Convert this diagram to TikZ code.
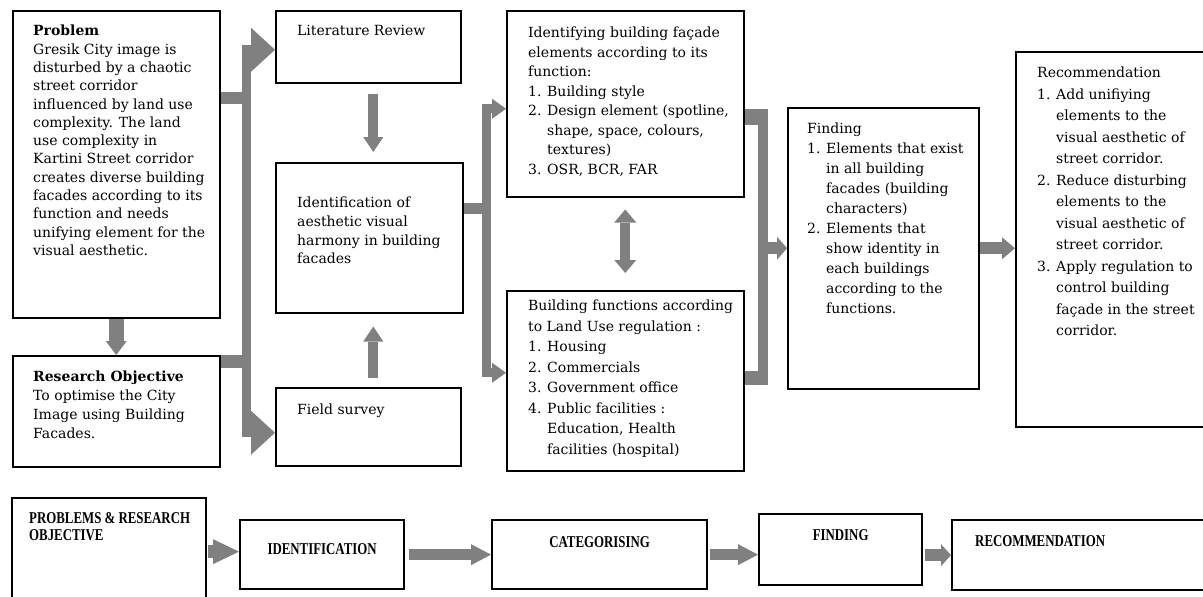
\documentclass[tikz,border=0pt]{standalone}
\usepackage{fontspec}
\setmainfont{DejaVu Serif}
\newfontfamily\capsfont[FakeStretch=0.78]{Liberation Serif Bold}
\usetikzlibrary{arrows.meta,calc}
\definecolor{agray}{RGB}{128,128,128}
\newcommand{\nli}[1]{\makebox[19pt][l]{#1}}
\newcommand{\ncont}{\hspace*{19pt}}
\newcommand{\bodyf}[1]{\fontsize{14}{#1}\selectfont}
\tikzset{
  bx/.style={draw, line width=1.5pt, inner sep=0pt, anchor=north west},
  bxb/.style={draw, line width=2.3pt, inner sep=0pt, anchor=north west},
  tx/.style={inner sep=0pt, anchor=north west, align=left},
  capt/.style={inner sep=0pt, font=\capsfont\fontsize{16.5}{17}\selectfont, align=left},
  bar/.style={draw=agray, line width=#1, line join=miter},
  tri/.style n args={2}{-{Triangle[width=#1,length=#2,line width=0pt]}},
  dtri/.style n args={2}{{Triangle[width=#1,length=#2,line width=0pt]}-{Triangle[width=#1,length=#2,line width=0pt]}}
}
\begin{document}
\begin{tikzpicture}[x=1pt,y=-1pt]
\useasboundingbox (0,0) rectangle (1203,597);
\clip (0,0) rectangle (1203,597);
% ---- boxes
\node[bx, minimum width=207pt, minimum height=307pt] (prob) at (12,10) {};
\node[bx, minimum width=207pt, minimum height=111pt] (ro) at (12,355) {};
\node[bx, minimum width=185pt, minimum height=72pt] (lit) at (275,10) {};
\node[bx, minimum width=187pt, minimum height=150pt] (ident) at (275,162) {};
\node[bx, minimum width=185pt, minimum height=78pt] (fs) at (275,387) {};
\node[bx, minimum width=237pt, minimum height=186pt] (idf) at (506,10) {};
\node[bx, minimum width=237pt, minimum height=180pt] (bf) at (506,290) {};
\node[bx, minimum width=191pt, minimum height=281pt] (fin) at (787,107) {};
\node[bx, minimum width=220pt, minimum height=375pt] (rec) at (1015,51) {};
\node[bxb, minimum width=194pt, minimum height=130pt] (p2) at (11,497) {};
\node[bxb, minimum width=164pt, minimum height=69pt] (id2) at (239,519) {};
\node[bxb, minimum width=215pt, minimum height=69pt] (cat2) at (491,519) {};
\node[bxb, minimum width=163pt, minimum height=71pt] (fin2) at (758,513) {};
\node[bxb, minimum width=270pt, minimum height=70pt] (rec2) at (951,519) {};
% ---- texts
\node[tx, font=\bodyf{18.3}] (tprob) at (33,25) {\textbf{Problem}\\Gresik City image is\\disturbed by a chaotic\\street corridor\\influenced by land use\\complexity. The land\\use complexity in\\Kartini Street corridor\\creates diverse building\\facades according to its\\function and needs\\unifying element for the\\visual aesthetic.};
\node[tx, font=\bodyf{19}] (tro) at (33,371) {\textbf{Research Objective}\\To optimise the City\\Image using Building\\Facades.};
\node[tx, font=\bodyf{18.5}] (tlit) at (297,25) {Literature Review};
\node[tx, font=\bodyf{18.7}] (tident) at (297,197) {Identification of\\aesthetic visual\\harmony in building\\facades};
\node[tx, font=\bodyf{18.5}] (tfs) at (297,404) {Field survey};
\node[tx, font=\bodyf{19.5}] (tidf) at (528,27) {Identifying building façade\\elements according to its\\function:\\\nli{1.}Building style\\\nli{2.}Design element (spotline,\\\ncont shape, space, colours,\\\ncont textures)\\\nli{3.}OSR, BCR, FAR};
\node[tx, font=\bodyf{20.5}] (tbf) at (528,300) {Building functions according\\to Land Use regulation :\\\nli{1.}Housing\\\nli{2.}Commercials\\\nli{3.}Government office\\\nli{4.}Public facilities :\\\ncont Education, Health\\\ncont facilities (hospital)};
\node[tx, font=\bodyf{20}] (tfin) at (807,123) {Finding\\\nli{1.}Elements that exist\\\ncont in all building\\\ncont facades (building\\\ncont characters)\\\nli{2.}Elements that\\\ncont show identity in\\\ncont each buildings\\\ncont according to the\\\ncont functions.};
\node[tx, font=\bodyf{21.5}] (trec) at (1037,67) {Recommendation\\\nli{1.}Add unifiying\\\ncont elements to the\\\ncont visual aesthetic of\\\ncont street corridor.\\\nli{2.}Reduce disturbing\\\ncont elements to the\\\ncont visual aesthetic of\\\ncont street corridor.\\\nli{3.}Apply regulation to\\\ncont control building\\\ncont façade in the street\\\ncont corridor.};
\node[capt, anchor=north west] (tp2) at (29,512) {PROBLEMS \& RESEARCH\\OBJECTIVE};
\node[capt] (tid2) at ($(id2.north)+(0,30)$) {IDENTIFICATION};
\node[capt] (tcat2) at ($(cat2.north)+(0,23)$) {CATEGORISING};
\node[capt] (tfin2) at ($(fin2.north)+(0,22)$) {FINDING};
\node[capt, anchor=west] (trec2) at ($(rec2.north west)+(24,22)$) {RECOMMENDATION};
% ---- connectors: left bus
\coordinate (busL) at (246,0);
\coordinate (pj) at (250,98);
\coordinate (rj) at (250,361);
\draw[bar=12pt] (prob.east |- pj) -- (pj);
\draw[bar=13pt] (ro.east |- rj) -- (rj);
\draw[bar=9pt, dtri={44pt}{24pt}] ($(lit.west)+(0,3)$) -- ($(lit.west -| busL)+(0,3)$) -- ($(fs.west -| busL)+(0,6)$) -- ($(fs.west)+(0,6)$);
\draw[bar=15pt, tri={21pt}{14pt}] (prob.south) -- (ro.north);
\draw[bar=10pt, tri={20pt}{15pt}] ($(lit.south)+(5,10)$) -- ($(ident.north)+(4,-10)$);
\draw[bar=10pt, tri={20pt}{15pt}] ($(fs.north)+(5,-9)$) -- ($(ident.south)+(4,13)$);
% ---- middle bus
\coordinate (busM) at (486,0);
\coordinate (ij) at (490,208);
\draw[bar=11pt] (ident.east |- ij) -- (ij);
\draw[bar=9pt, dtri={20pt}{14pt}] ($(idf.west)+(0,5)$) -- ($(idf.west -| busM)+(0,5)$) -- ($(bf.west -| busM)+(0,-8)$) -- ($(bf.west)+(0,-8)$);
\draw[bar=10pt, dtri={22pt}{13pt}] ($(idf.south)+(0,12)$) -- ($(bf.north)+(0,-17)$);
% ---- right bus
\coordinate (busR) at (763,0);
\coordinate (rt) at (768,117);
\coordinate (rb) at (768,378);
\draw[bar=16pt] (idf.east |- rt) -- (rt);
\draw[bar=14pt] (bf.east |- rb) -- (rb);
\draw[bar=10pt] ($(busR |- rt)+(0,-8)$) -- ($(busR |- rb)+(0,7)$);
\draw[bar=12pt, tri={23pt}{10pt}] (fin.west -| busR) -- (fin.west);
\draw[bar=12pt, tri={22pt}{13pt}] (fin.east) -- (fin.east -| rec.west);
% ---- bottom row
\draw[bar=13pt, tri={25pt}{26pt}] ($(id2.west -| p2.east)+(1,-3)$) -- ($(id2.west)+(0,-3)$);
\draw[bar=11pt, tri={21pt}{20pt}] ($(id2.east)+(4,0)$) -- (cat2.west);
\draw[bar=11pt, tri={21pt}{20pt}] ($(cat2.east)+(2,0)$) -- (cat2.east -| fin2.west);
\draw[bar=12pt, tri={22pt}{10pt}] ($(rec2.west -| fin2.east)+(2,0)$) -- (rec2.west);
\end{tikzpicture}
\end{document}
